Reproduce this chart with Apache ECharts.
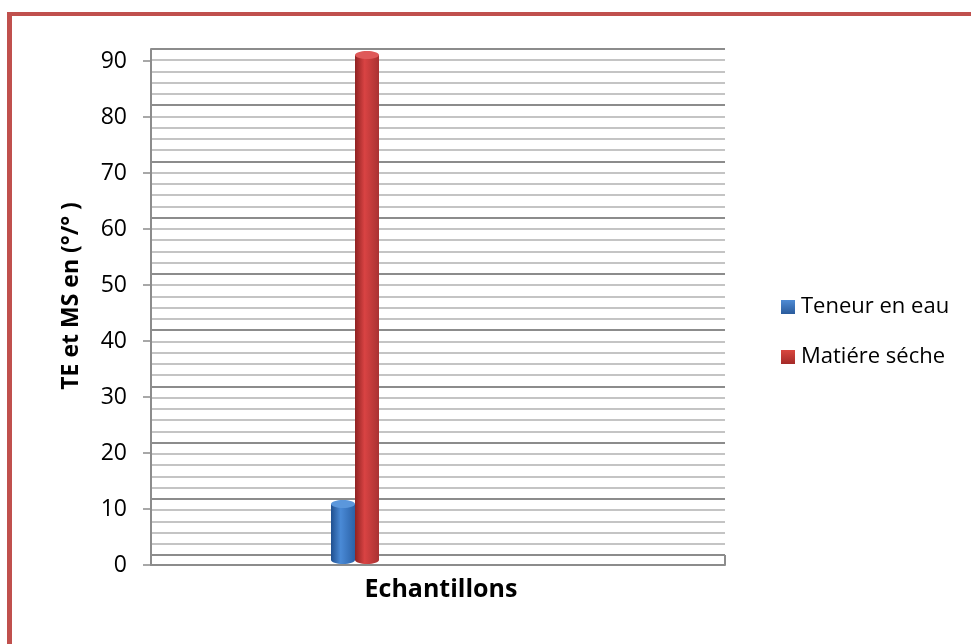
<!DOCTYPE html>
<html>
<head>
<meta charset="utf-8">
<script src="https://cdn.jsdelivr.net/npm/echarts@6/dist/echarts.min.js"></script>
<style>
  html, body { margin: 0; padding: 0; background: #fff; }
  #chart { width: 971px; height: 644px; }
</style>
</head>
<body>
<div id="chart"></div>
<script>
// Single sample, two measures (percent)
const categories = ['Echantillon'];
const teneurEau = [10];
const matiereSeche = [90];
const seriesNames = ['Teneur en eau', 'Matiére séche'];
const yTicks = [0, 10, 20, 30, 40, 50, 60, 70, 80, 90];

const FONT = 'Open Sans';
const W = 971, H = 644;

// Plot box: back wall, front axis plane, and the middle plane the cylinders stand in
const wallLeft = 151, wallRight = 725;
const backTop = 49, backBottom = 555;
const frontTop = 61, frontBottom = 565;
const barTop = 55, barBottom = 560;
const CYL_W = 24, CAP_H = 8;

function cyl(dark, light, mid) {
  return {
    type: 'linear', x: 0, y: 0, x2: 1, y2: 0,
    colorStops: [
      { offset: 0, color: dark },
      { offset: 0.4, color: light },
      { offset: 1, color: mid }
    ]
  };
}
function swatch(light, dark) {
  return {
    type: 'linear', x: 0, y: 0, x2: 0, y2: 1,
    colorStops: [{ offset: 0, color: light }, { offset: 1, color: dark }]
  };
}
const styles = [
  { body: cyl('#1f4f8f', '#4a8ad6', '#2b62a8'), cap: '#5b97dc', key: swatch('#4f8bd4', '#2a5b9c') },
  { body: cyl('#8f2222', '#d94343', '#a93232'), cap: '#df5a5a', key: swatch('#d9473f', '#a42a28') }
];

// Cylinder drawn at category position, shifted left/right by its slot
function cylinder(slot) {
  return function (params, api) {
    const v = api.value(1);
    const top = api.coord([api.value(0), v]);
    const base = api.coord([api.value(0), 0]);
    const cx = top[0] + (slot === 0 ? -CYL_W / 2 : CYL_W / 2);
    const x = cx - CYL_W / 2;
    const st = styles[slot];
    return {
      type: 'group',
      children: [
        { type: 'ellipse', shape: { cx: cx, cy: base[1], rx: CYL_W / 2, ry: CAP_H / 2 }, style: { fill: st.body } },
        { type: 'rect', shape: { x: x, y: top[1], width: CYL_W, height: base[1] - top[1] }, style: { fill: st.body } },
        { type: 'ellipse', shape: { cx: cx, cy: top[1], rx: CYL_W / 2, ry: CAP_H / 2 }, style: { fill: st.cap } }
      ]
    };
  };
}

const chart = echarts.init(document.getElementById('chart'), null, { renderer: 'canvas' });

const yMin = yTicks[0], yMax = yTicks[yTicks.length - 1];
const yStep = yTicks[1] - yTicks[0];

chart.setOption({
  animation: false,
  backgroundColor: '#ffffff',
  textStyle: { fontFamily: FONT },
  graphic: [
    // frame
    { type: 'rect', shape: { x: 7, y: 12, width: W - 7, height: 4 }, style: { fill: '#c0504d' } },
    { type: 'rect', shape: { x: 7, y: 12, width: 5, height: H - 12 }, style: { fill: '#c0504d' } },
    // floor right edge
    { type: 'line', shape: { x1: wallRight, y1: backBottom, x2: wallRight, y2: frontBottom },
      style: { stroke: '#8c8c8c', lineWidth: 2 } }
  ],
  legend: {
    data: seriesNames,
    orient: 'vertical',
    left: 776,
    top: 291,
    icon: 'rect',
    itemWidth: 14,
    itemHeight: 14,
    itemGap: 28,
    textStyle: { fontFamily: FONT, fontSize: 22, color: '#000', padding: [0, 0, 0, 1] }
  },
  grid: [
    { left: wallLeft, width: wallRight - wallLeft, top: backTop, height: backBottom - backTop },
    { left: wallLeft, width: wallRight - wallLeft, top: frontTop, height: frontBottom - frontTop },
    { left: wallLeft, width: 408, top: barTop, height: barBottom - barTop }
  ],
  xAxis: [
    { gridIndex: 0, type: 'category', data: categories, show: false },
    {
      gridIndex: 1, type: 'category', data: categories,
      axisLine: { show: true, lineStyle: { color: '#8c8c8c', width: 2 } },
      axisTick: { show: false },
      axisLabel: { show: false },
      name: 'Echantillons',
      nameLocation: 'middle',
      nameGap: 12,
      nameTextStyle: { fontFamily: FONT, fontSize: 25, fontWeight: 'bold', color: '#000', verticalAlign: 'top', padding: [0, 0, 0, 6] }
    },
    { gridIndex: 2, type: 'category', data: categories, show: false }
  ],
  yAxis: [
    {
      gridIndex: 0, type: 'value', min: yMin, max: yMax, interval: yStep,
      axisLine: { show: true, lineStyle: { color: '#8c8c8c', width: 2 } },
      axisTick: { show: false },
      axisLabel: { show: false },
      splitLine: { show: true, lineStyle: { color: '#8c8c8c', width: 2 } },
      minorTick: { show: false, splitNumber: 5 },
      minorSplitLine: { show: true, lineStyle: { color: '#c4c4c4', width: 2 } }
    },
    {
      gridIndex: 1, type: 'value', min: yMin, max: yMax, interval: yStep,
      axisLine: { show: true, lineStyle: { color: '#8c8c8c', width: 2 } },
      axisTick: { show: true, inside: false, length: 8, lineStyle: { color: '#8c8c8c', width: 1.5 } },
      axisLabel: { show: true, margin: 24, fontFamily: FONT, fontSize: 23, color: '#000' },
      splitLine: { show: false },
      name: 'TE et MS en (°/° )',
      nameLocation: 'middle',
      nameGap: 68,
      nameRotate: 90,
      nameTextStyle: { fontFamily: FONT, fontSize: 23, fontWeight: 'bold', color: '#000', padding: [0, 0, 0, 34] }
    },
    { gridIndex: 2, type: 'value', min: yMin, max: yMax, show: false }
  ],
  series: [
    {
      name: seriesNames[0], type: 'custom', xAxisIndex: 2, yAxisIndex: 2,
      data: teneurEau.map((v, i) => [i, v]),
      encode: { x: 0, y: 1 },
      renderItem: cylinder(0),
      itemStyle: { color: styles[0].key }
    },
    {
      name: seriesNames[1], type: 'custom', xAxisIndex: 2, yAxisIndex: 2,
      data: matiereSeche.map((v, i) => [i, v]),
      encode: { x: 0, y: 1 },
      renderItem: cylinder(1),
      itemStyle: { color: styles[1].key }
    }
  ]
});
</script>
</body>
</html>
